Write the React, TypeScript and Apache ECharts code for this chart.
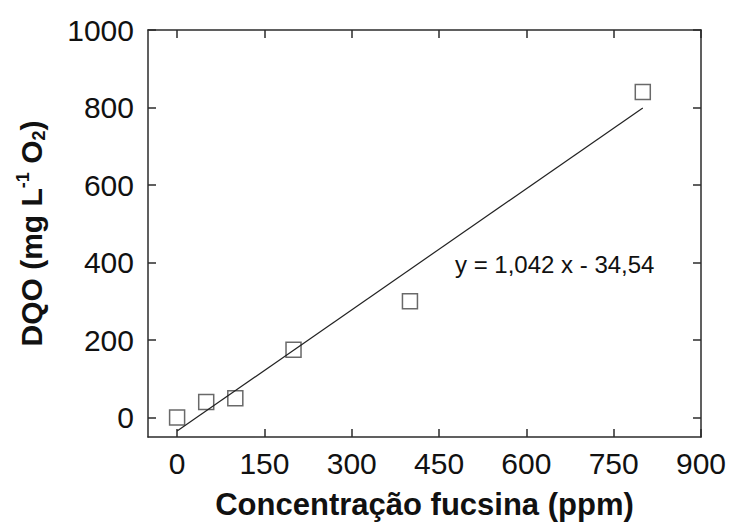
import React, { useEffect, useRef } from "react";
import * as echarts from "echarts";

// Concentração de fucsina (ppm) e DQO medida (mg L-1 O2)
const concentracao = [0, 50, 100, 200, 400, 800];
const dqo = [0, 40, 50, 175, 300, 840];

// Ajuste linear: y = a x + b
const slope = 1.042;
const intercept = -34.54;
const fitRange = [0, 800];

const xTicks = [0, 150, 300, 450, 600, 750, 900];
const yTicks = [0, 200, 400, 600, 800, 1000];

const AXIS_COLOR = "#2b2b2b";
const FONT = "'Liberation Sans', Arial, sans-serif";

export default function App() {
  const ref = useRef<HTMLDivElement>(null);

  useEffect(() => {
    if (!ref.current) return;
    const chart = echarts.init(ref.current, null, { renderer: "svg" });

    const fitLine = fitRange.map((x) => [x, slope * x + intercept]);
    const eqText = `y = ${slope.toFixed(3).replace(".", ",")} x - ${Math.abs(intercept)
      .toFixed(2)
      .replace(".", ",")}`;

    const axisLine = { show: true, lineStyle: { color: AXIS_COLOR, width: 1.5 } };
    const axisTick = { show: true, inside: true, length: 8, lineStyle: { color: AXIS_COLOR, width: 1.5 } };
    const plain = (v: number) => String(v);

    chart.setOption({
      animation: false,
      backgroundColor: "#ffffff",
      grid: { left: 148, top: 30, right: 31, bottom: 87, containLabel: false, outerBoundsMode: "none" },
      xAxis: [
        {
          type: "value",
          min: -50,
          max: 900,
          position: "bottom",
          axisLine: { ...axisLine, onZero: false },
          axisTick: { ...axisTick, customValues: xTicks },
          splitLine: { show: false },
          axisLabel: {
            customValues: xTicks,
            formatter: plain,
            color: "#111",
            fontSize: 30,
            fontFamily: FONT,
            margin: 11,
          },
          name: "Concentração fucsina (ppm)",
          nameLocation: "middle",
          nameGap: 52,
          nameTextStyle: { color: "#111", fontSize: 31, fontWeight: "bold", fontFamily: FONT },
        },
        {
          type: "value",
          min: -50,
          max: 900,
          position: "top",
          axisLine: { ...axisLine, onZero: false },
          axisTick: { ...axisTick, customValues: xTicks },
          axisLabel: { show: false },
          splitLine: { show: false },
        },
      ],
      yAxis: [
        {
          type: "value",
          min: -50,
          max: 1000,
          position: "left",
          axisLine: { ...axisLine, onZero: false },
          axisTick: { ...axisTick, customValues: yTicks },
          splitLine: { show: false },
          axisLabel: {
            customValues: yTicks,
            formatter: plain,
            color: "#111",
            fontSize: 30,
            fontFamily: FONT,
            margin: 14,
          },
          name: "{t|DQO (mg L}{sup|-1}{t| O}{sub|2}{t|)}",
          nameLocation: "middle",
          nameRotate: 90,
          nameGap: 100,
          nameTextStyle: {
            rich: {
              t: { color: "#111", fontSize: 30, fontWeight: "bold", fontFamily: FONT, lineHeight: 34 },
              sup: { color: "#111", fontSize: 18, fontWeight: "bold", fontFamily: FONT, verticalAlign: "top", lineHeight: 34, padding: [0, 0, 16, 0] },
              sub: { color: "#111", fontSize: 18, fontWeight: "bold", fontFamily: FONT, verticalAlign: "bottom", lineHeight: 34, padding: [12, 0, 0, 0] },
            },
          },
        },
        {
          type: "value",
          min: -50,
          max: 1000,
          position: "right",
          axisLine: { ...axisLine, onZero: false },
          axisTick: { ...axisTick, customValues: yTicks },
          axisLabel: { show: false },
          splitLine: { show: false },
        },
      ],
      series: [
        {
          type: "line",
          data: fitLine,
          xAxisIndex: 0,
          yAxisIndex: 0,
          showSymbol: false,
          symbol: "none",
          lineStyle: { color: "#222", width: 1.2 },
          silent: true,
        },
        {
          type: "scatter",
          data: concentracao.map((x, i) => [x, dqo[i]]),
          xAxisIndex: 0,
          yAxisIndex: 0,
          symbol: "rect",
          symbolSize: 15,
          itemStyle: { color: "rgba(255,255,255,0)", borderColor: "#444", borderWidth: 1.5 },
        },
      ],
      graphic: [
        {
          type: "text",
          left: 455,
          top: 252,
          style: { text: eqText, fill: "#111", fontSize: 24, fontFamily: FONT },
        },
      ],
    });

    return () => chart.dispose();
  }, []);

  return (
    <div
      ref={ref}
      style={{ position: "fixed", left: 0, top: 0, width: 732, height: 524, background: "#fff" }}
    />
  );
}
